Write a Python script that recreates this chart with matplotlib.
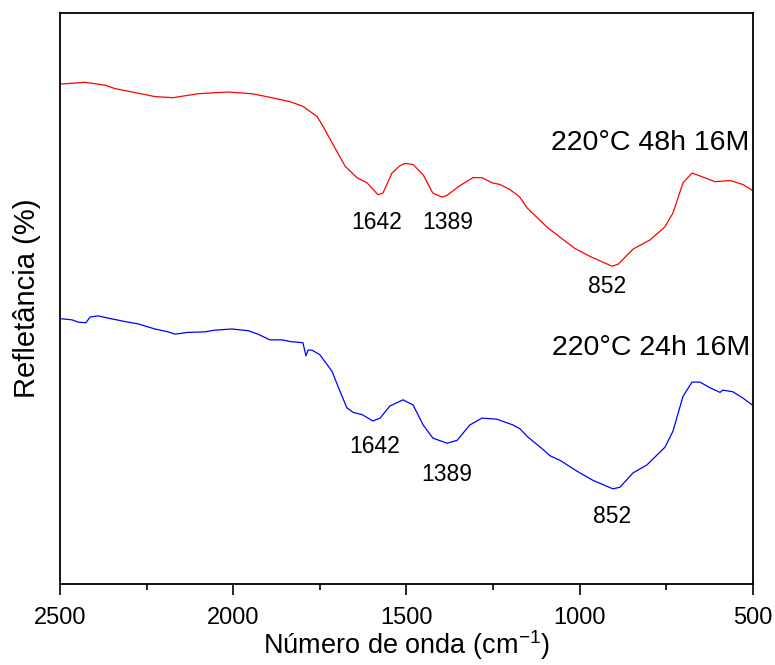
import matplotlib
matplotlib.use("Agg")
import matplotlib.pyplot as plt
from matplotlib.ticker import MultipleLocator

plt.rcParams["font.family"] = ["Liberation Sans", "DejaVu Sans"]
plt.rcParams["mathtext.fontset"] = "custom"
plt.rcParams["mathtext.rm"] = "Liberation Sans"
plt.rcParams["mathtext.it"] = "Liberation Sans:italic"

# 220°C 48h 16M (red)
wn_48h = [2497, 2428, 2370, 2341, 2275, 2226, 2174, 2102, 2015, 1946, 1888,
          1836, 1799, 1758, 1741, 1712, 1677, 1643, 1614, 1582, 1568, 1542,
          1519, 1504, 1481, 1452, 1424, 1398, 1383, 1346, 1308, 1282, 1253,
          1230, 1201, 1173, 1152, 1092, 1014, 970, 907, 890, 846, 797, 754,
          731, 702, 676, 644, 610, 566, 529, 500]
refl_48h = [87.5, 87.8, 87.3, 86.7, 85.9, 85.3, 85.1, 85.8, 86.1, 85.8, 85.1,
            84.4, 83.6, 81.8, 80.1, 76.9, 73.1, 71.1, 70.2, 68.1, 68.4, 71.9,
            73.2, 73.6, 73.4, 71.6, 68.4, 67.7, 68.0, 69.7, 71.1, 71.1, 70.2,
            69.9, 69.0, 67.7, 65.8, 62.3, 58.7, 57.3, 55.6, 55.9, 58.6, 60.2,
            62.5, 64.9, 70.2, 71.9, 71.2, 70.4, 70.6, 69.9, 68.8]

# 220°C 24h 16M (blue)
wn_24h = [2497, 2465, 2448, 2425, 2413, 2390, 2361, 2312, 2275, 2226, 2188,
          2168, 2131, 2082, 2053, 2004, 1957, 1929, 1894, 1859, 1836, 1799,
          1790, 1784, 1773, 1750, 1715, 1692, 1672, 1654, 1628, 1597, 1576,
          1548, 1510, 1481, 1452, 1424, 1383, 1354, 1317, 1282, 1239, 1193,
          1172, 1152, 1106, 1086, 1057, 1008, 962, 904, 884, 846, 806, 754,
          731, 702, 676, 653, 624, 595, 587, 558, 529, 500]
refl_24h = [46.4, 46.2, 45.8, 45.7, 46.7, 46.9, 46.5, 45.9, 45.5, 44.6, 44.1,
            43.7, 44.0, 44.1, 44.4, 44.6, 44.3, 43.7, 42.7, 42.7, 42.4, 42.2,
            39.9, 40.9, 40.9, 40.1, 37.2, 33.7, 30.8, 30.0, 29.6, 28.5, 29.0,
            31.1, 32.2, 31.3, 27.8, 25.5, 24.6, 25.1, 27.8, 29.0, 28.8, 27.8,
            27.1, 25.8, 23.5, 22.4, 21.6, 19.7, 18.1, 16.6, 16.9, 19.4, 20.8,
            23.9, 26.7, 32.8, 35.3, 35.3, 34.3, 33.5, 33.9, 33.6, 32.5, 31.2]

peak_labels = ["1642", "1389", "852"]
peak_pos_48h = [(1585, 63.2), (1380, 63.2), (921, 52.0)]
peak_pos_24h = [(1591, 24.0), (1383, 19.1), (907, 11.7)]

fig = plt.figure(figsize=(7.75, 6.65), dpi=100, facecolor="white")
ax = fig.add_axes([0.0774, 0.1223, 0.8942, 0.8587])

ax.plot(wn_48h, refl_48h, color="#ff0000", linewidth=0.9)
ax.plot(wn_24h, refl_24h, color="#0000ff", linewidth=0.9)

ax.text(509, 77.2, "220°C 48h 16M", fontsize=20.5, ha="right", va="center")
ax.text(509, 41.3, "220°C 24h 16M", fontsize=20.5, ha="right", va="center")

for lab, (x, y) in zip(peak_labels, peak_pos_48h):
    ax.text(x, y, lab, fontsize=16.5, ha="center", va="center")
for lab, (x, y) in zip(peak_labels, peak_pos_24h):
    ax.text(x, y, lab, fontsize=16.5, ha="center", va="center")

ax.set_xlim(2500, 500)
ax.set_ylim(0, 100)
ax.xaxis.set_major_locator(MultipleLocator(500))
ax.xaxis.set_minor_locator(MultipleLocator(250))
ax.set_yticks([])
ax.tick_params(axis="x", which="major", direction="out", length=8, width=1.2,
               labelsize=17, pad=9, top=False)
ax.tick_params(axis="x", which="minor", direction="out", length=4.5, width=1.2,
               top=False)
for sp in ax.spines.values():
    sp.set_linewidth(1.3)

ax.set_xlabel("Número de onda (cm$^{\\mathrm{-1}}$)", fontsize=19.5)
ax.xaxis.label.set_va("center")
ax.xaxis.set_label_coords(0.5, -0.108)
ax.set_ylabel("Refletância (%)", fontsize=21, labelpad=14)

fig.savefig("out.png", dpi=100, facecolor="white")
